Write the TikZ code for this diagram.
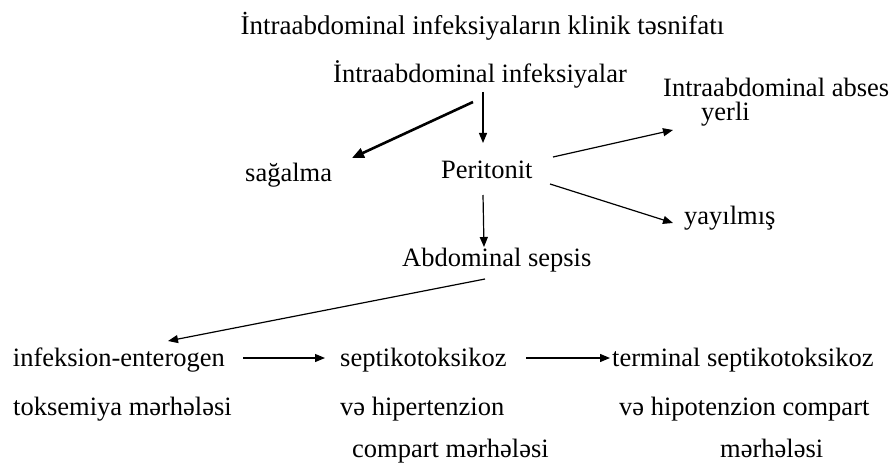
\documentclass[tikz,border=0pt]{standalone}
\usepackage{fontspec}
\setmainfont{Liberation Serif}
\usetikzlibrary{arrows.meta}
\begin{document}
\begin{tikzpicture}[x=1pt,y=-1pt,
  lbl/.style={anchor=base west,inner sep=0pt,font=\fontsize{26.5}{30}\selectfont},
  arr/.style={line width=1.2pt,-{Triangle[length=10pt,width=8pt]}},
  thickarr/.style={line width=2.6pt,-{Triangle[length=12pt,width=10pt]}}]
\useasboundingbox (0,0) rectangle (890,465);
\node[lbl,anchor=base,font=\fontsize{27}{30}\selectfont] (title) at (482.5,35) {İntraabdominal infeksiyaların klinik təsnifatı};
\node[lbl] (inf) at (333,83) {İntraabdominal infeksiyalar};
\node[lbl] (abs) at (663,97) {Intraabdominal abses};
\node[lbl] (yer) at (701,121) {yerli};
\node[lbl] (sag) at (245,181) {sağalma};
\node[lbl] (per) at (441,178) {Peritonit};
\node[lbl] (yay) at (684,224) {yayılmış};
\node[lbl] (sep) at (402,266) {Abdominal sepsis};
\node[lbl] (ie) at (12.7,366) {infeksion-enterogen};
\node[lbl] (ie2) at (13,415) {toksemiya mərhələsi};
\node[lbl] (st) at (340,366) {septikotoksikoz};
\node[lbl] (st2) at (340,415) {və hipertenzion};
\node[lbl] (st3) at (352,457) {compart mərhələsi};
\node[lbl] (ts) at (612,366) {terminal septikotoksikoz};
\node[lbl] (ts2) at (619,415) {və hipotenzion compart};
\node[lbl] (ts3) at (720,457) {mərhələsi};

\draw[thickarr] ([shift={(140,19)}]inf.base west) -- ([shift={(107,-23)}]sag.base west);
\draw[arr] ([shift={(150,9)}]inf.base west) -- ([shift={(42,-35)}]per.base west);
\draw[arr] ([shift={(112,-21)}]per.base west) -- ([shift={(-28,9)}]yer.base west);
\draw[arr] ([shift={(109,6)}]per.base west) -- ([shift={(-11,-1)}]yay.base west);
\draw[arr] ([shift={(42,17)}]per.base west) -- ([shift={(82,-19)}]sep.base west);
\draw[arr] ([shift={(83,13)}]sep.base west) -- ([shift={(155.3,-25)}]ie.base west);
\draw[arr] ([shift={(230.3,-8)}]ie.base west) -- ([shift={(-15,-8)}]st.base west);
\draw[arr] ([shift={(186,-8)}]st.base west) -- ([shift={(-2,-8)}]ts.base west);
\end{tikzpicture}
\end{document}
